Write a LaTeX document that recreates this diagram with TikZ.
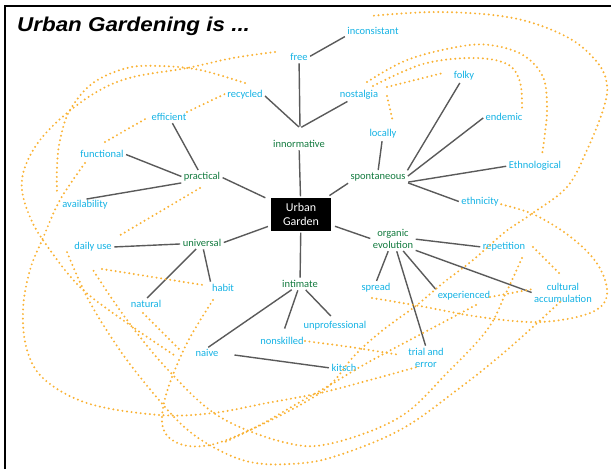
\documentclass[tikz,border=0pt]{standalone}
\usepackage{fontspec}
\setmainfont{Carlito}
\newfontfamily\titlefont{Liberation Sans}
\usetikzlibrary{positioning}
\definecolor{termcyan}{RGB}{20,178,228}
\definecolor{groupgreen}{RGB}{18,122,62}
\definecolor{trailorange}{RGB}{249,178,52}
\definecolor{linkgray}{RGB}{90,90,90}

\begin{document}
\begin{tikzpicture}[x=1pt,y=-1pt,
term/.style={text=termcyan,font=\fontsize{10.5}{12}\selectfont,inner sep=1pt,align=center},
group/.style={text=groupgreen,font=\fontsize{10.5}{12}\selectfont,inner sep=1pt,align=center},
link/.style={draw=linkgray,line width=1.4pt,shorten <=1.5pt,shorten >=1.5pt},
trail/.style={draw=trailorange,line width=2.2pt,line cap=round,dash pattern=on 0pt off 4.6pt}]
\useasboundingbox (0,0) rectangle (611,469);
\draw[line width=2pt] (5,469) -- (5,6) -- (611,6);
\node[anchor=base west,inner sep=0pt,font=\titlefont\bfseries\itshape\fontsize{20}{23}\selectfont] (title) at (17,31) {\scalebox{1.12}[1]{Urban Gardening is ...}};

\node (garden) [fill=black,text=white,minimum width=60pt,minimum height=33pt,align=center,
    font=\fontsize{12}{14}\selectfont] at (301,214.5) {Urban\\Garden};

\node (innormative) [group] at (299,144) {innormative};
\node (practical) [group] at (202,177) {practical};
\node (spontaneous) [group] at (378,177) {spontaneous};
\node (universal) [group] at (202,243) {universal};
\node (organic) [group] at (393,239) {organic\\evolution};
\node (intimate) [group] at (300,284) {intimate};

\node (free) [term] at (299,57) {free};
\node (inconsistant) [term] at (373,31) {inconsistant};
\node (recycled) [term] at (245,95) {recycled};
\node (nostalgia) [term] at (359,95) {nostalgia};
\node (efficient) [term] at (169,117) {efficient};
\node (folky) [term] at (464,76) {folky};
\node (endemic) [term] at (504,117) {endemic};
\node (locally) [term] at (383,134) {locally};
\node (functional) [term] at (102,154) {functional};
\node (ethnological) [term] at (535,166) {Ethnological};
\node (availability) [term] at (85,205) {availability};
\node (ethnicity) [term] at (480,202) {ethnicity};
\node (dailyuse) [term] at (93,247) {daily use};
\node (repetition) [term] at (504,247) {repetition};
\node (habit) [term] at (223,288) {habit};
\node (spread) [term] at (376,288) {spread};
\node (experienced) [term] at (464,296) {experienced};
\node (cultural) [term] at (563,293) {cultural\\accumulation};
\node (natural) [term] at (146,304) {natural};
\node (unprofessional) [term] at (335,326) {unprofessional};
\node (nonskilled) [term] at (282,341) {nonskilled};
\node (naive) [term] at (207,353) {naive};
\node (trial) [term] at (426,358) {trial and\\error};
\node (kitsch) [term] at (344,368) {kitsch};
\coordinate (fork) at (300,128);

\draw[link] (free.east) -- (inconsistant.south west);
\draw[link] (free) -- (fork);
\draw[link] (recycled.east) -- (fork);
\draw[link] (nostalgia) -- (fork);
\draw[link] (innormative) -- (garden);
\draw[link] (efficient) -- (practical);
\draw[link] (functional.east) -- (practical.west);
\draw[link] (availability.north) -- (practical.south west);
\draw[link,shorten >=6pt] (practical.east) -- (garden);
\draw[link,shorten <=3pt] (garden) -- (universal.east);
\draw[link,shorten <=4pt] (garden) -- (spontaneous.south west);
\draw[link,shorten <=4pt] (garden) -- (organic.west);
\draw[link] (garden) -- (intimate);
\draw[link] (spontaneous.north) -- (locally);
\draw[link] (spontaneous.north east) -- (folky);
\draw[link] (spontaneous.east) -- (endemic.west);
\draw[link] (spontaneous.south east) -- (ethnological.west);
\draw[link] (spontaneous.south east) -- (ethnicity.west);
\draw[link] (universal) -- (dailyuse.east);
\draw[link] (universal) -- (natural.north);
\draw[link] (universal) -- (habit.north west);
\draw[link] (intimate) -- (naive.north);
\draw[link,shorten >=8pt] (intimate) -- (nonskilled.north);
\draw[link,shorten >=6pt] (intimate) -- (unprofessional.north);
\draw[link,shorten <=15pt] (naive.east) -- (kitsch.west);
\draw[link] (organic.east) -- (repetition.west);
\draw[link] (organic.south east) -- (cultural.west);
\draw[link] (organic) -- (experienced.north west);
\draw[link] (organic) -- (trial.north);
\draw[link] (organic) -- (spread.north);

\draw[trail] plot[smooth,tension=0.6] coordinates {(213,300) (186,345) (166,395) (163,428) (180,444) (210,445) (250,430) (300,405) (330,385) (355,355) (383,330) (417,305) (443,283) (473,260) (505,232) (530,215) (567,187) (587,150) (603,110) (607,85) (597,62) (567,37) (513,18) (440,12) (370,16)};
\draw[trail] plot[smooth,tension=0.6] coordinates {(476,305) (423,333) (367,363) (330,385) (300,402) (260,425) (225,442)};
\draw[trail] plot[smooth,tension=0.6] coordinates {(nonskilled.east) (350,347) (400,355)};
\draw[trail] plot[smooth,tension=0.6] coordinates {(372,298) (420,306) (480,317) (540,322) (590,313) (607,295) (598,265) (572,238) (535,215) (500,204)};
\draw[trail] (533,247) -- (560,274);
\draw[trail] (490,297) -- (533,289);
\draw[trail] plot[smooth,tension=0.6] coordinates {(560,302) (507,350) (457,390) (400,430) (333,457) (290,464) (250,462) (213,447) (180,423) (140,377) (113,340) (87,297) (67,252)};
\draw[trail] plot[smooth,tension=0.6] coordinates {(522,258) (505,295) (487,330) (447,373) (400,417) (333,443) (287,443) (220,417) (170,372) (127,320) (93,270)};
\draw[trail] plot[smooth,tension=0.6] coordinates {(85,163) (60,200) (43,238) (30,270) (23,310) (27,350) (45,380) (90,404) (160,415) (213,413) (267,403) (320,393) (370,380) (417,367)};
\draw[trail] plot[smooth,tension=0.6] coordinates {(275,52) (233,58) (187,68) (133,77) (100,90) (67,113) (40,140) (25,167) (22,190) (30,217) (45,243) (80,287) (127,323) (177,357)};
\draw[trail] plot[smooth,tension=0.6] coordinates {(245,83) (200,70) (160,66) (127,68) (93,83) (70,110) (60,140) (57,167) (57,193)};
\draw[trail] (105,142) -- (147,118);
\draw[trail] (187,112) -- (227,93);
\draw[trail] (200,188) -- (117,237);
\draw[trail] (102,269) -- (203,285);
\draw[trail] (143,313) -- (180,350);
\draw[trail] plot[smooth,tension=0.6] coordinates {(367,82) (407,60) (457,47) (490,45) (523,55) (543,77) (547,107) (545,133) (542,155)};
\draw[trail] plot[smooth,tension=0.6] coordinates {(373,86) (423,64) (473,58) (507,64) (520,82) (522,110)};
\draw[trail] (387,87) -- (443,73);
\draw[trail] (387,96) -- (393,122);
\end{tikzpicture}
\end{document}
